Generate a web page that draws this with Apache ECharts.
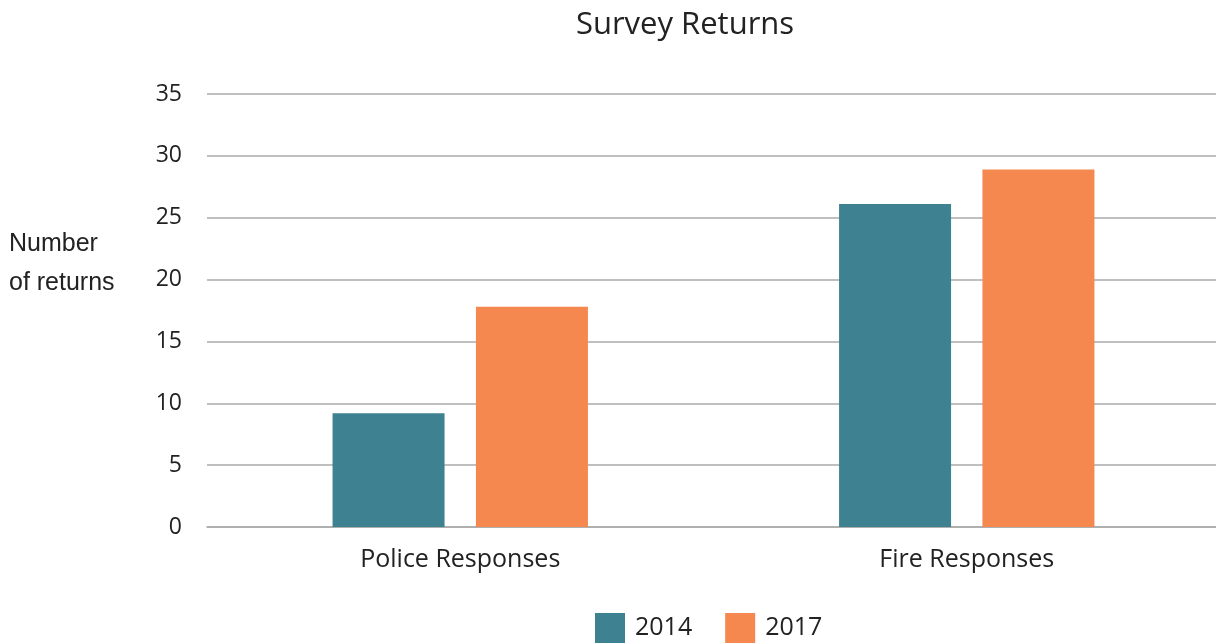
<!DOCTYPE html>
<html>
<head>
<meta charset="utf-8">
<script src="https://cdn.jsdelivr.net/npm/echarts@6/dist/echarts.min.js"></script>
<style>
  html, body { margin: 0; padding: 0; background: #fff; }
  #main { width: 1216px; height: 644px; }
</style>
</head>
<body>
<div id="main"></div>
<script>
// 数据
const categories = ["Police Responses", "Fire Responses"];
const years = ["2014", "2017"];
const returns2014 = [9.2, 26.1];
const returns2017 = [17.8, 28.9];
const colors = ["#3e8291", "#f4884f"];

const chart = echarts.init(document.getElementById("main"));

const option = {
  animation: false,
  textStyle: { fontFamily: "Open Sans" },
  title: {
    text: "Survey Returns",
    left: 680,
    top: 5,
    textAlign: "center",
    textStyle: { fontFamily: "Open Sans", fontSize: 31, fontWeight: "normal", color: "#222" }
  },
  graphic: [{
    type: "text",
    left: 9,
    top: 225,
    style: {
      text: "Number\nof returns",
      font: "25px 'Liberation Sans'",
      fill: "#222",
      lineHeight: 39
    }
  }],
  legend: {
    data: years,
    left: 595,
    top: 613,
    padding: 0,
    itemWidth: 30,
    itemHeight: 30,
    itemGap: 33,
    icon: "rect",
    textStyle: { fontSize: 25, color: "#222", fontFamily: "Open Sans", padding: [0, 0, 0, 5] }
  },
  grid: { left: 207, width: 1013, top: 94, bottom: 117, outerBoundsMode: "none" },
  xAxis: {
    type: "category",
    data: categories,
    axisTick: { show: false },
    axisLine: { lineStyle: { color: "#aaa", width: 1.5 } },
    axisLabel: { fontSize: 25, color: "#222", margin: 20 }
  },
  yAxis: {
    type: "value",
    min: 0,
    max: 35,
    interval: 5,
    axisLine: { show: false },
    axisTick: { show: false },
    axisLabel: { fontSize: 23, color: "#222", margin: 25 },
    splitLine: { lineStyle: { color: "#aaa", width: 1.5 } }
  },
  series: [
    {
      name: years[0],
      type: "bar",
      data: returns2014,
      barWidth: 112,
      barGap: "28%",
      itemStyle: { color: colors[0] }
    },
    {
      name: years[1],
      type: "bar",
      data: returns2017,
      barWidth: 112,
      itemStyle: { color: colors[1] }
    }
  ]
};

chart.setOption(option);
</script>
</body>
</html>
